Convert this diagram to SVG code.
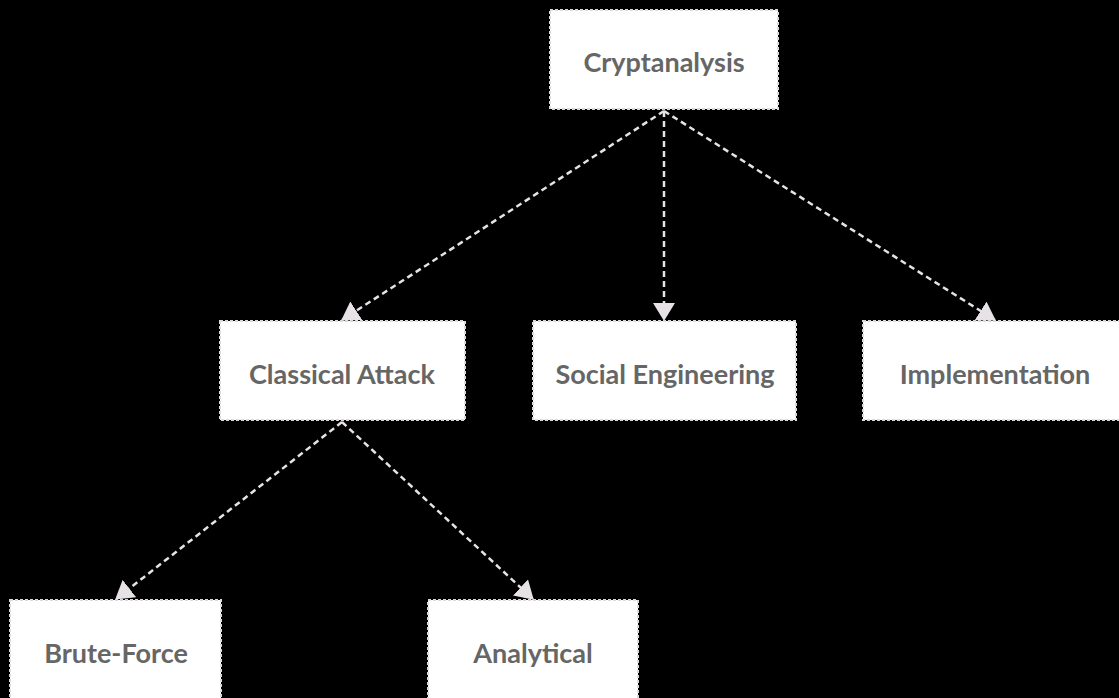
<svg xmlns="http://www.w3.org/2000/svg" width="1119" height="698" viewBox="0 0 1119 698">
  <style>
    .node rect { fill: #ffffff; stroke: #dcd8dc; stroke-width: 2; stroke-dasharray: 3 2; }
    .node text { font-family: Lato, "Noto Sans", sans-serif; font-weight: bold; font-size: 27px; fill: #666666; text-anchor: middle; dominant-baseline: central; }
    .edge { fill: none; stroke: #e6e2e6; stroke-width: 2.5; stroke-dasharray: 6 4; marker-end: url(#arrow); }
  </style>
  <defs>
    <marker id="arrow" markerUnits="userSpaceOnUse" markerWidth="18" markerHeight="22" viewBox="0 0 18 22" refX="17" refY="11" orient="auto">
      <path d="M0,0 L18,11 L0,22 z" fill="#e6e2e6"/>
    </marker>
  </defs>
  <rect x="0" y="0" width="1119" height="698" fill="#000000"/>

  <g id="connectors">
    <line class="edge" x1="664" y1="111" x2="342" y2="320"/>
    <line class="edge" x1="664" y1="111" x2="664" y2="320"/>
    <line class="edge" x1="664" y1="111" x2="995" y2="320"/>
    <line class="edge" x1="342" y1="422" x2="116" y2="599"/>
    <line class="edge" x1="342" y1="422" x2="533" y2="599"/>
  </g>

  <g id="cryptanalysis" class="node">
    <rect x="550" y="10" width="228" height="99"/>
    <text x="664" y="61">Cryptanalysis</text>
  </g>
  <g id="classical-attack" class="node">
    <rect x="220" y="321" width="245" height="99"/>
    <text x="342" y="373">Classical Attack</text>
  </g>
  <g id="social-engineering" class="node">
    <rect x="533" y="321" width="263" height="99"/>
    <text x="665" y="373">Social Engineering</text>
  </g>
  <g id="implementation" class="node">
    <rect x="863" y="321" width="264" height="99"/>
    <text x="995" y="373">Implementation</text>
  </g>
  <g id="brute-force" class="node">
    <rect x="10" y="600" width="211" height="110"/>
    <text x="116" y="652">Brute-Force</text>
  </g>
  <g id="analytical" class="node">
    <rect x="428" y="600" width="210" height="110"/>
    <text x="533" y="652">Analytical</text>
  </g>
</svg>
